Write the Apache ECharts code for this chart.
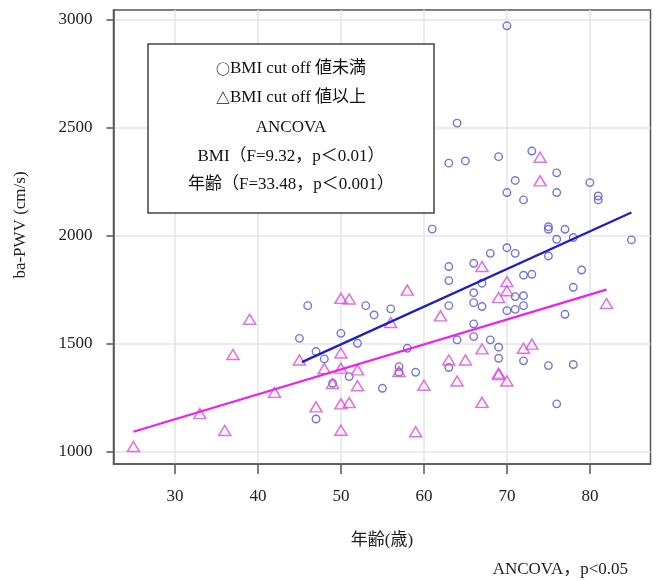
<!DOCTYPE html>
<html><head><meta charset="utf-8">
<script src="https://cdn.jsdelivr.net/npm/echarts@6/dist/echarts.min.js"></script>
<style>html,body{margin:0;padding:0;background:#fff}#c{width:659px;height:581px}</style>
</head><body><div id="c"></div>
<script>
// tick labels
const xTicks = [30, 40, 50, 60, 70, 80];
const yTicks = [1000, 1500, 2000, 2500, 3000];

// ○ BMI below cut-off (age, ba-PWV)
const lowAge = [70,64,63,65,69,73,76,71,70,76,72,80,81,81,61,75,75,77,76,78,85,70,71,68,75,63,66,63,67,72,73,79,78,66,66,67,63,71,72,72,71,70,77,66,66,64,68,69,69,72,75,78,63,76,58,57,57,59,55,51,49,50,52,53,54,56,46,45,47,48,47];
const lowPWV = [2970,2520,2335,2345,2365,2391,2290,2255,2199,2199,2165,2245,2183,2165,2030,2041,2029,2029,1983,1991,1980,1944,1918,1918,1906,1857,1872,1792,1780,1817,1821,1841,1761,1736,1690,1672,1676,1718,1722,1676,1659,1653,1636,1592,1533,1518,1518,1484,1433,1421,1399,1404,1390,1222,1479,1394,1368,1368,1294,1348,1317,1548,1502,1676,1633,1661,1676,1525,1464,1430,1152];

// △ BMI at or above cut-off (age, ba-PWV)
const highAge = [25,33,36,37,39,42,45,47,48,49,50,51,50,50,50,51,50,52,52,56,57,58,59,60,62,63,64,65,67,67,67,69,69,69,70,70,70,72,73,74,74,82];
const highPWV = [1025,1177,1099,1450,1613,1275,1425,1208,1385,1316,1710,1707,1457,1387,1222,1228,1100,1379,1306,1598,1371,1748,1093,1308,1629,1425,1328,1425,1476,1229,1857,1358,1364,1714,1787,1745,1328,1479,1498,2362,2253,1686];

// fitted regression lines (end points)
const lowFitAge = [45.3, 85];
const lowFitPWV = [1415, 2107];
const highFitAge = [25, 82];
const highFitPWV = [1093, 1750];

const noteLines = ['{s|○}BMI cut off 値未満', '{s|△}BMI cut off 値以上', 'ANCOVA', 'BMI（F=9.32，p＜0.01）', '年齢（F=33.48，p＜0.001）'];
const xTitle = '年齢(歳)';
const yTitle = 'ba-PWV (cm/s)';
const footNote = 'ANCOVA，p<0.05';

const FONT = "'Liberation Serif', 'Noto Sans CJK JP', serif";
const zip = (a, b) => a.map((v, i) => [v, b[i]]);

const chart = echarts.init(document.getElementById('c'), null, {renderer: 'canvas'});
const axisCommon = {
  type: 'value',
  axisLine: {show: true, onZero: false, lineStyle: {color: '#555', width: 1.5}},
  splitLine: {show: true, lineStyle: {color: '#e4e4e4', width: 1.5}},
};
const noteY = [69, 98, 128, 157, 185];
chart.setOption({
  animation: false,
  backgroundColor: '#fff',
  grid: {left: 113.5, right: 8.5, top: 10, bottom: 117, show: true, borderColor: '#555', borderWidth: 1.5, containLabel: false},
  xAxis: Object.assign({}, axisCommon, {
    min: 22.6, max: 87.3,
    axisTick: {show: true, length: 10, customValues: xTicks, lineStyle: {color: '#555', width: 1.5}},
    axisLabel: {customValues: xTicks, margin: 24, fontSize: 17, fontFamily: FONT, color: '#222', formatter: v => String(v)},
    name: xTitle, nameLocation: 'middle', nameGap: 68,
    nameTextStyle: {fontSize: 17, fontFamily: FONT, color: '#222'}
  }),
  yAxis: Object.assign({}, axisCommon, {
    min: 944, max: 3043,
    axisTick: {show: true, length: 7, customValues: yTicks, lineStyle: {color: '#555', width: 1.5}},
    axisLabel: {customValues: yTicks, margin: 21, fontSize: 17, fontFamily: FONT, color: '#222', formatter: v => String(v)}
  }),
  series: [
    {type: 'scatter', data: zip(lowAge, lowPWV), symbol: 'circle', symbolSize: 7.5,
     itemStyle: {color: 'rgba(0,0,0,0)', borderColor: '#5252d6', borderWidth: 1.4}, z: 3, silent: true},
    {type: 'scatter', data: zip(highAge, highPWV), symbol: 'triangle', symbolSize: [12, 10],
     itemStyle: {color: 'rgba(0,0,0,0)', borderColor: '#e048e0', borderWidth: 1.5}, z: 3, silent: true},
    {type: 'line', data: zip(lowFitAge, lowFitPWV), symbol: 'none', lineStyle: {color: '#1c1ccc', width: 2.2}, z: 4, silent: true},
    {type: 'line', data: zip(highFitAge, highFitPWV), symbol: 'none', lineStyle: {color: '#f21ef2', width: 2.2}, z: 4, silent: true}
  ],
  graphic: [
    {type: 'rect', z: 100, shape: {x: 148, y: 44, width: 286, height: 169},
     style: {fill: '#fff', stroke: '#444', lineWidth: 1.5}},
    ...noteLines.map((t, i) => ({type: 'text', z: 101, x: 291, y: noteY[i],
      style: {text: t, fontSize: 17, fontFamily: FONT, fill: '#111', textAlign: 'center', textVerticalAlign: 'middle',
        rich: {s: {fontSize: 14, fontWeight: 'bold', fontFamily: "'Noto Sans CJK JP'", fill: '#111'}}}})),
    {type: 'text', z: 101, x: 21, y: 225, rotation: Math.PI / 2,
     style: {text: yTitle, fontSize: 17, fontFamily: FONT, fill: '#222', textAlign: 'center', textVerticalAlign: 'middle'}},
    {type: 'text', z: 101, x: 628, y: 570,
     style: {text: footNote, fontSize: 17, fontFamily: FONT, fill: '#222', textAlign: 'right', textVerticalAlign: 'middle'}}
  ]
});
</script></body></html>
